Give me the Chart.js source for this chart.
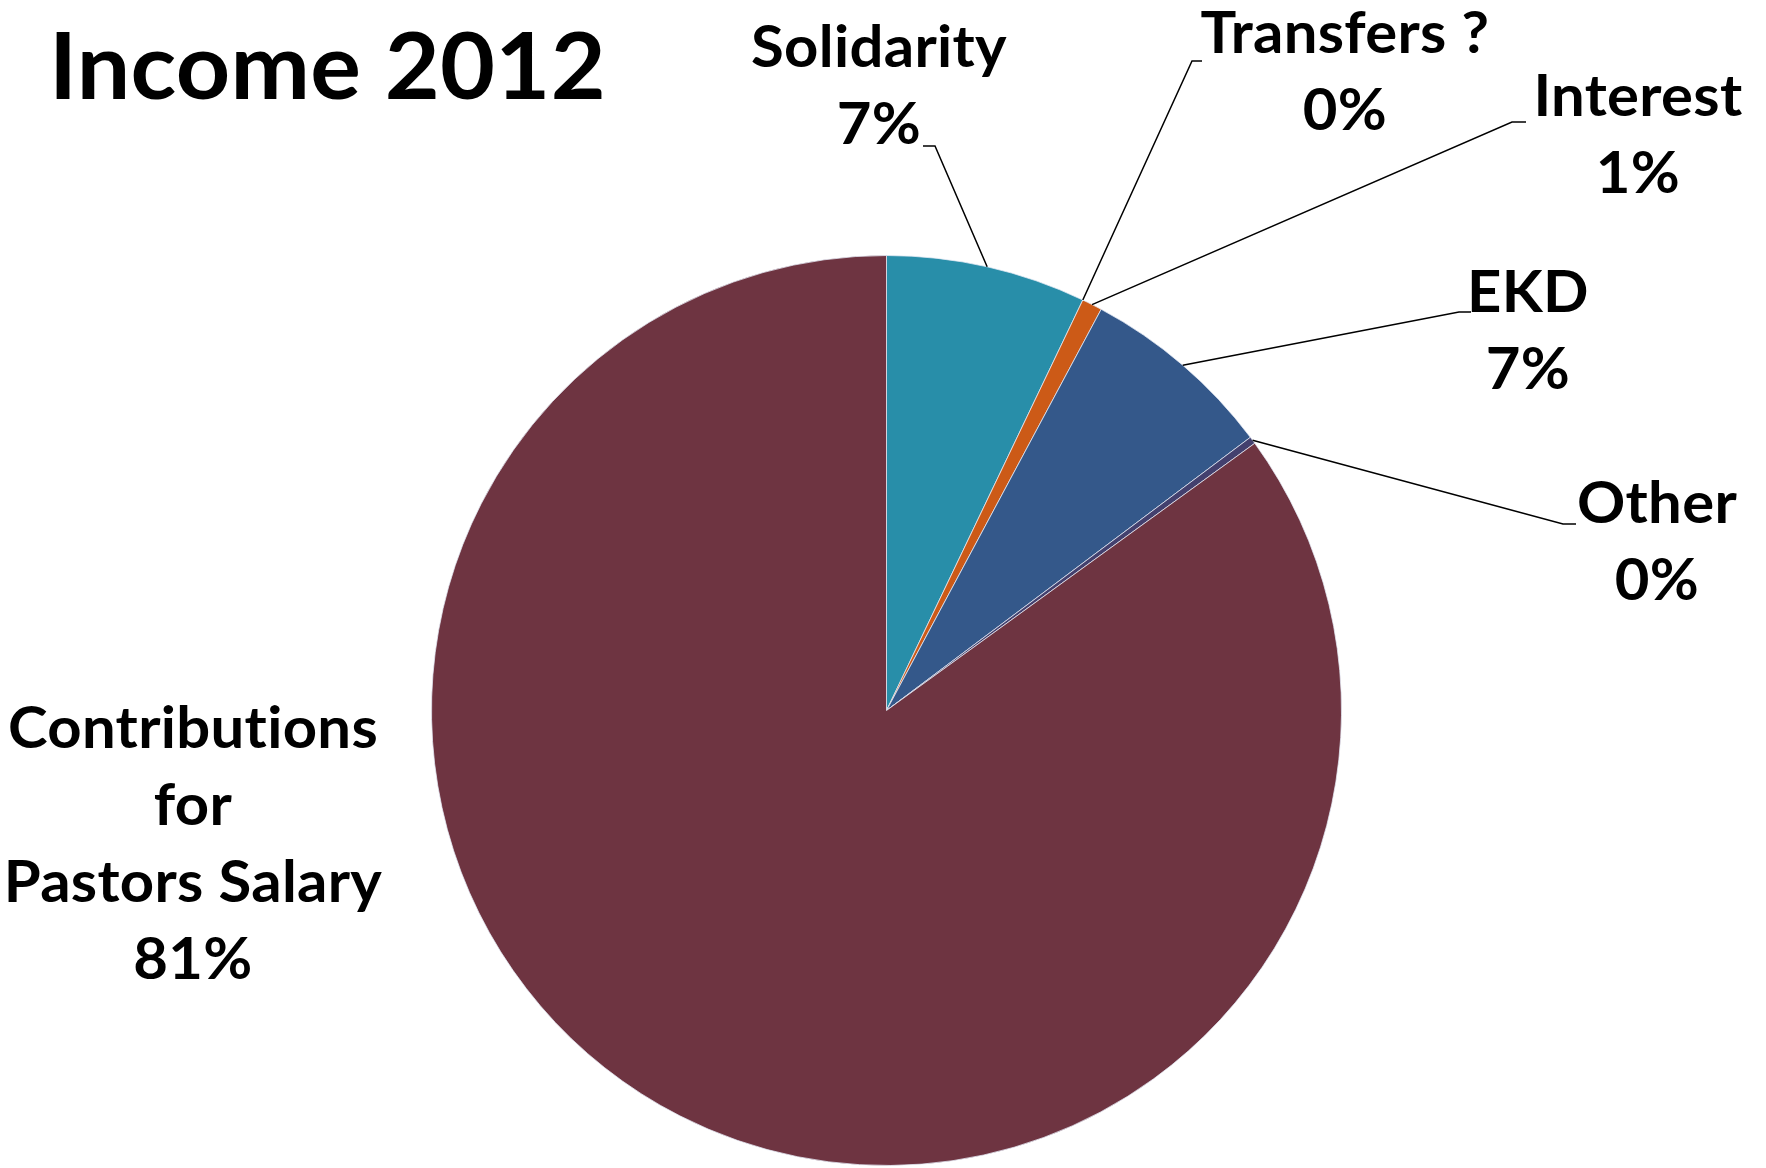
<!DOCTYPE html>
<html>
<head>
<meta charset="utf-8">
<script src="https://cdn.jsdelivr.net/npm/chart.js@4"></script>
<style>
  html, body { margin: 0; padding: 0; background: #ffffff; }
  #wrap { width: 1766px; height: 1168px; position: relative; }
</style>
</head>
<body>
<div id="wrap"><canvas id="c" width="1766" height="1168"></canvas></div>
<script>
// ---- data ----
const chartTitle = 'Income 2012';
const categories = ['Solidarity', 'Transfers ?', 'Interest', 'EKD', 'Other', 'Contributions\nfor\nPastors Salary'];
const values = [7.10, 0, 0.72, 6.93, 0.26, 84.99];
const percentLabels = ['7%', '0%', '1%', '7%', '0%', '81%'];
const sliceColors = ['#288EA9', '#4F81BD', '#CC5A17', '#34588A', '#43406E', '#6E3441'];

// ---- layout (label placement, leader elbows) ----
const labelLayout = [
  { cx: 879,  y: 67,  elbow: [935, 146],  end: [923, 146] },
  { cx: 1345, y: 53,  elbow: [1192, 61],  end: [1202, 61] },
  { cx: 1638, y: 116, elbow: [1512, 122], end: [1526, 122] },
  { cx: 1528, y: 312, elbow: [1459, 312], end: [1471, 312] },
  { cx: 1657, y: 523, elbow: [1563, 524], end: [1576, 524] },
  { cx: 193,  y: 748, elbow: null, end: null }
];
const lineStep = 77;
const labelFont = 'bold 58px Lato';
const titleFont = 'bold 92px Lato';

function noLigatures(ctx) {
  try { ctx.textRendering = 'optimizeSpeed'; } catch (e) {}
  try { ctx.letterSpacing = '0.3px'; } catch (e) {}
}

const labelPlugin = {
  id: 'outsideLabels',
  afterDraw(chart) {
    const ctx = chart.ctx;
    const arcs = chart.getDatasetMeta(0).data;
    ctx.save();
    noLigatures(ctx);
    ctx.font = labelFont;
    const sx = 370 / ctx.measureText('Contributions').width;
    ctx.fillStyle = '#000';
    ctx.strokeStyle = '#000';
    ctx.lineWidth = 1.5;
    ctx.textAlign = 'center';
    ctx.textBaseline = 'alphabetic';
    arcs.forEach((arc, i) => {
      const L = labelLayout[i];
      if (L.elbow) {
        const mid = (arc.startAngle + arc.endAngle) / 2;
        const px = arc.x + Math.cos(mid) * arc.outerRadius;
        const py = arc.y + Math.sin(mid) * arc.outerRadius;
        ctx.beginPath();
        ctx.moveTo(px, py);
        ctx.lineTo(L.elbow[0], L.elbow[1]);
        ctx.lineTo(L.end[0], L.end[1]);
        ctx.stroke();
      }
      const lines = categories[i].split('\n').concat([percentLabels[i]]);
      lines.forEach((t, k) => {
        ctx.save();
        ctx.translate(L.cx, L.y + k * lineStep);
        ctx.scale(sx, 1);
        ctx.fillText(t, 0, 0);
        ctx.restore();
      });
    });
    // title
    ctx.font = titleFont;
    const tw = ctx.measureText(chartTitle).width;
    const tsx = 557 / tw;
    ctx.textAlign = 'left';
    ctx.save();
    ctx.translate(49, 99);
    ctx.scale(tsx, 1);
    ctx.fillText(chartTitle, 0, 0);
    ctx.restore();
    ctx.restore();
  }
};

new Chart(document.getElementById('c'), {
  type: 'pie',
  data: {
    labels: categories.map(c => c.replace(/\n/g, ' ')),
    datasets: [{
      data: values,
      backgroundColor: sliceColors,
      borderColor: 'rgba(230,235,245,0.75)',
      borderWidth: 1
    }]
  },
  options: {
    responsive: false,
    animation: false,
    layout: { padding: { left: 431, right: 424, top: 255, bottom: 2 } },
    plugins: {
      legend: { display: false },
      tooltip: { enabled: false },
      title: { display: false }
    }
  },
  plugins: [labelPlugin]
});
</script>
</body>
</html>
